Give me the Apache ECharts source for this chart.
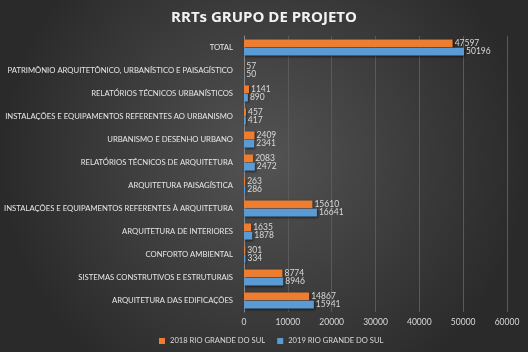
<!DOCTYPE html>
<html>
<head>
<meta charset="utf-8">
<script src="https://cdn.jsdelivr.net/npm/echarts@6/dist/echarts.min.js"></script>
<style>
  html, body { margin: 0; padding: 0; }
  #chart { width: 528px; height: 352px; }
</style>
</head>
<body>
<div id="chart"></div>
<script>
// categories listed bottom-to-top, as the category axis draws them
const categories = [
    "ARQUITETURA DAS EDIFICAÇÕES",
    "SISTEMAS CONSTRUTIVOS E ESTRUTURAIS",
    "CONFORTO AMBIENTAL",
    "ARQUITETURA DE INTERIORES",
    "INSTALAÇÕES E EQUIPAMENTOS REFERENTES À ARQUITETURA",
    "ARQUITETURA PAISAGÍSTICA",
    "RELATÓRIOS TÉCNICOS DE ARQUITETURA",
    "URBANISMO E DESENHO URBANO",
    "INSTALAÇÕES E EQUIPAMENTOS REFERENTES AO URBANISMO",
    "RELATÓRIOS TÉCNICOS URBANÍSTICOS",
    "PATRIMÔNIO ARQUITETÔNICO, URBANÍSTICO E PAISAGÍSTICO",
    "TOTAL",
];
const values2018 = [14867, 8774, 301, 1635, 15610, 263, 2083, 2409, 457, 1141, 57, 47597];
const values2019 = [15941, 8946, 334, 1878, 16641, 286, 2472, 2341, 417, 890, 50, 50196];
const seriesNames = ["2018 RIO GRANDE DO SUL", "2019 RIO GRANDE DO SUL"];

const chart = echarts.init(document.getElementById("chart"));

const FONT = "Lato";

const labelStyle = {
    show: true,
    position: "right",
    distance: 2,
    color: "#d9d9d9",
    fontSize: 8.5,
    fontFamily: FONT,
};

chart.setOption({
    backgroundColor: new echarts.graphic.RadialGradient(0.5, 0.45, 0.75, [
        { offset: 0, color: "#535353" },
        { offset: 1, color: "#2a2a2a" },
    ]),
    textStyle: { fontFamily: FONT },
    title: {
        text: "RRTs GRUPO DE PROJETO",
        left: "center",
        top: 5,
        textStyle: { color: "#f2f2f2", fontSize: 15, fontWeight: "bold", fontFamily: "Open Sans" },
    },
    legend: {
        bottom: 2,
        left: 154,
        itemWidth: 6,
        itemHeight: 6,
        itemGap: 12,
        itemTextGap: 3,
        icon: "rect",
        textStyle: { color: "#d9d9d9", fontSize: 7.6, fontFamily: FONT },
        data: seriesNames,
    },
    grid: { left: 244, right: 21, top: 36, bottom: 40, outerBoundsMode: "none" },
    xAxis: {
        type: "value",
        min: 0,
        max: 60000,
        interval: 10000,
        axisLabel: { color: "#d9d9d9", fontSize: 8.5, fontFamily: FONT, margin: 6, formatter: (v) => String(v) },
        axisLine: { show: false },
        splitLine: { lineStyle: { color: "#5a5a5a" } },
    },
    yAxis: {
        type: "category",
        data: categories,
        axisTick: { show: false },
        axisLine: { lineStyle: { color: "#8a8a8a" } },
        axisLabel: { color: "#e6e6e6", fontSize: 7.7, fontFamily: FONT, margin: 11 },
    },
    series: [
        {
            name: seriesNames[0],
            type: "bar",
            data: values2018,
            barGap: "5%",
            barCategoryGap: "30%",
            itemStyle: { color: "#ed7d31", shadowColor: "rgba(0,0,0,0.5)", shadowBlur: 2, shadowOffsetX: 1, shadowOffsetY: 1 },
            label: labelStyle,
        },
        {
            name: seriesNames[1],
            type: "bar",
            data: values2019,
            itemStyle: { color: "#5b9bd5", shadowColor: "rgba(0,0,0,0.5)", shadowBlur: 2, shadowOffsetX: 1, shadowOffsetY: 1 },
            label: labelStyle,
        },
    ],
});
</script>
</body>
</html>
